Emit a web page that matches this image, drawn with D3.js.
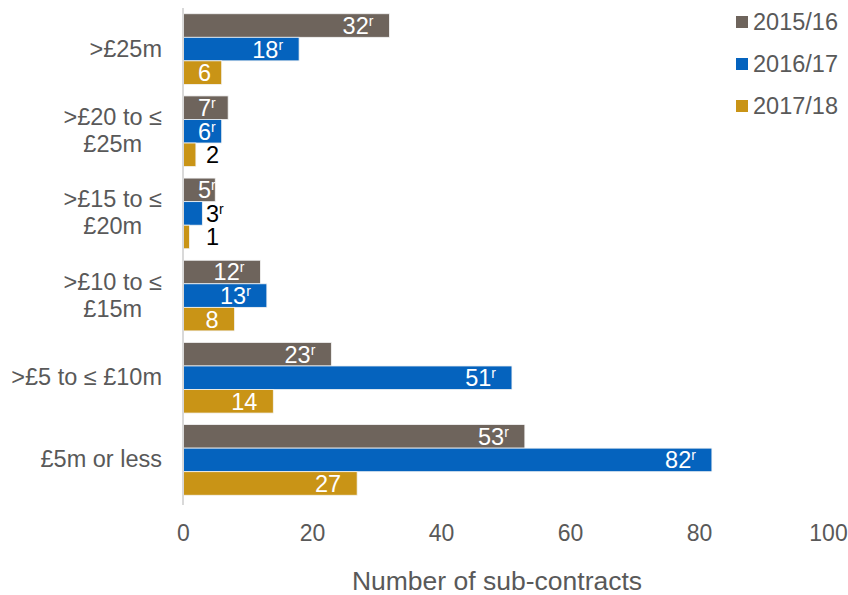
<!DOCTYPE html>
<html>
<head>
<meta charset="utf-8">
<script src="https://cdn.jsdelivr.net/npm/d3@7"></script>
<style>
  body { margin: 0; background: #fff; }
  text { font-family: "Liberation Sans", Arial, sans-serif; }
</style>
</head>
<body>
<svg id="chart" width="848" height="595"></svg>
<script>
// Sub-contract counts by value band, three financial years
const categories = [">£25m", ">£20 to ≤ £25m", ">£15 to ≤ £20m", ">£10 to ≤ £15m", ">£5 to ≤ £10m", "£5m or less"];
const seriesNames = ["2015/16", "2016/17", "2017/18"];
const values2015 = [32, 7, 5, 12, 23, 53];
const values2016 = [18, 6, 3, 13, 51, 82];
const values2017 = [6, 2, 1, 8, 14, 27];
// "r" marks a revised figure
const revised2015 = [true, true, true, true, true, true];
const revised2016 = [true, true, true, true, true, true];
const revised2017 = [false, false, false, false, false, false];
const xTicks = [0, 20, 40, 60, 80, 100];
const axisTitle = "Number of sub-contracts";

const colors = { "2015/16": "#6e645c", "2016/17": "#0563be", "2017/18": "#c99416" };
const seriesValues = [values2015, values2016, values2017];
const seriesRevised = [revised2015, revised2016, revised2017];

const rows = [];
categories.forEach((c, i) => {
  seriesNames.forEach((s, j) => {
    rows.push({ category: c, series: s, value: seriesValues[j][i], revised: seriesRevised[j][i] });
  });
});

const svg = d3.select("#chart");
const textColor = "#595959";

const x = d3.scaleLinear().domain([0, 100]).range([183, 828]);
const y = d3.scaleBand().domain(categories).range([8, 501]).paddingInner(0.14).paddingOuter(0.07);
const ySub = d3.scaleBand().domain(seriesNames).range([0, y.bandwidth()]);

// bars
const barG = svg.append("g");
barG.selectAll("rect").data(rows).join("rect")
  .attr("x", x(0))
  .attr("y", d => y(d.category) + ySub(d.series))
  .attr("width", d => x(d.value) - x(0))
  .attr("height", ySub.bandwidth())
  .attr("fill", d => colors[d.series])
  .attr("stroke", "#f4f4f4")
  .attr("stroke-width", 0.8);

// vertical axis line
svg.append("line")
  .attr("x1", x(0)).attr("x2", x(0))
  .attr("y1", 8).attr("y2", 505)
  .attr("stroke", "#d9d9d9").attr("stroke-width", 2);

// value labels: inside the bar end when they fit, otherwise beside the bar
const labelG = svg.append("g");
rows.forEach(d => {
  const cy = y(d.category) + ySub(d.series) + ySub.bandwidth() / 2;
  const t = labelG.append("text")
    .attr("y", cy)
    .attr("dy", "0.36em")
    .attr("font-size", 23.5);
  t.append("tspan").text(d.value);
  if (d.revised) {
    t.append("tspan").attr("font-size", 14).attr("dy", -8).text("r");
  }
  const w = t.node().getComputedTextLength();
  const barW = x(d.value) - x(0);
  if (barW >= w + 14) {
    const right = Math.max(x(d.value) - 16, x(0) + 15 + w);
    t.attr("x", right - w).attr("fill", "#fff");
  } else {
    t.attr("x", x(0) + 23).attr("fill", "#000");
  }
});

// x axis ticks
const xAxis = svg.append("g")
  .attr("transform", `translate(0,505)`)
  .call(d3.axisBottom(x).tickValues(xTicks).tickSize(0).tickPadding(20));
xAxis.select(".domain").remove();
xAxis.selectAll("text")
  .attr("font-size", 23)
  .attr("font-family", '"Liberation Sans", Arial, sans-serif')
  .attr("fill", textColor);

// y axis category labels, wrapped and centred line by line
const yAxis = svg.append("g")
  .attr("transform", `translate(${x(0)},0)`)
  .call(d3.axisLeft(y).tickSize(0).tickPadding(21));
yAxis.select(".domain").remove();
const maxLine = 158;
yAxis.selectAll(".tick text").each(function(label) {
  const t = d3.select(this)
    .attr("font-size", 23.5)
    .attr("font-family", '"Liberation Sans", Arial, sans-serif')
    .attr("fill", textColor)
    .text(label);
  if (this.getComputedTextLength() <= maxLine) return;
  // break into lines that fit
  const words = label.split(" ");
  const lines = [];
  let cur = [];
  t.text(null);
  const probe = t.append("tspan");
  words.forEach(wd => {
    const trial = cur.concat([wd]).join(" ");
    probe.text(trial);
    if (probe.node().getComputedTextLength() > maxLine && cur.length) {
      lines.push(cur.join(" "));
      cur = [wd];
    } else {
      cur.push(wd);
    }
  });
  lines.push(cur.join(" "));
  probe.remove();
  const lh = 27;
  const widths = lines.map(l => { const p = t.append("tspan").text(l); const w = p.node().getComputedTextLength(); p.remove(); return w; });
  const maxW = d3.max(widths);
  const cx = -21 - maxW / 2;
  t.attr("text-anchor", "middle").attr("x", cx).attr("dy", null);
  lines.forEach((l, i) => {
    t.append("tspan")
      .attr("x", cx)
      .attr("y", (i - (lines.length - 1) / 2) * lh)
      .attr("dy", "0.32em")
      .text(l);
  });
});

// axis title
svg.append("text")
  .attr("x", 497).attr("y", 581)
  .attr("dy", "0.35em")
  .attr("text-anchor", "middle")
  .attr("font-size", 26.5)
  .attr("fill", textColor)
  .text(axisTitle);

// legend
const legend = svg.append("g");
const legendY = d3.scalePoint().domain(seriesNames).range([22, 106]);
seriesNames.forEach(s => {
  legend.append("rect")
    .attr("x", 736).attr("y", legendY(s) - 6)
    .attr("width", 12).attr("height", 12)
    .attr("fill", colors[s]);
  legend.append("text")
    .attr("x", 753).attr("y", legendY(s))
    .attr("dy", "0.35em")
    .attr("font-size", 23.5)
    .attr("fill", textColor)
    .text(s);
});
</script>
</body>
</html>
